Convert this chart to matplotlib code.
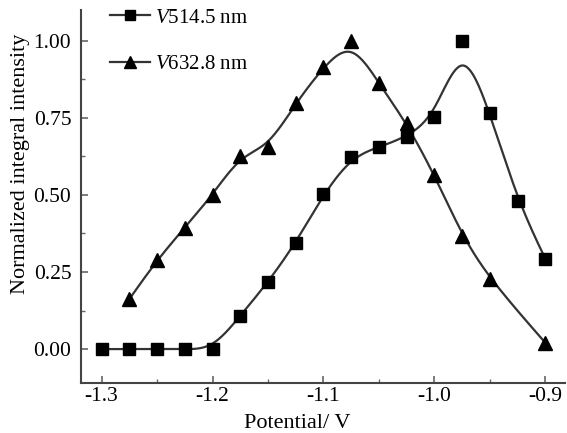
import numpy as np
import matplotlib
matplotlib.use('Agg')
import matplotlib.pyplot as plt
from matplotlib.ticker import MultipleLocator, FormatStrFormatter

plt.rcParams['font.family'] = 'Liberation Serif'
plt.rcParams['mathtext.fontset'] = 'custom'
plt.rcParams['mathtext.rm'] = 'Liberation Serif'
plt.rcParams['mathtext.it'] = 'Liberation Serif:italic'
plt.rcParams['axes.unicode_minus'] = False

# data
x_514 = [-1.3, -1.275, -1.25, -1.225, -1.2, -1.175, -1.15, -1.125, -1.1, -1.075,
         -1.05, -1.025, -1.0, -0.975, -0.95, -0.925, -0.9]
y_514 = [0.0, 0.0, 0.0, 0.0, 0.0, 0.108, 0.217, 0.344, 0.503, 0.622,
         0.656, 0.688, 0.754, 1.0, 0.766, 0.481, 0.292]
x_633 = [-1.275, -1.25, -1.225, -1.2, -1.175, -1.15, -1.125, -1.1, -1.075,
         -1.05, -1.025, -1.0, -0.975, -0.95, -0.9]
y_633 = [0.162, 0.289, 0.394, 0.5, 0.628, 0.655, 0.798, 0.916, 1.0,
         0.862, 0.732, 0.565, 0.367, 0.226, 0.02]


def bspline(xs, ys, n=30):
    # clamped uniform cubic B-spline with the data points as control points
    px = np.r_[[xs[0]] * 2, xs, [xs[-1]] * 2]
    py = np.r_[[ys[0]] * 2, ys, [ys[-1]] * 2]
    t = np.linspace(0, 1, n, endpoint=False)
    b0 = (1 - t) ** 3 / 6
    b1 = (3 * t ** 3 - 6 * t ** 2 + 4) / 6
    b2 = (-3 * t ** 3 + 3 * t ** 2 + 3 * t + 1) / 6
    b3 = t ** 3 / 6
    cx, cy = [], []
    for i in range(len(px) - 3):
        cx.append(b0 * px[i] + b1 * px[i + 1] + b2 * px[i + 2] + b3 * px[i + 3])
        cy.append(b0 * py[i] + b1 * py[i + 1] + b2 * py[i + 2] + b3 * py[i + 3])
    cx.append([xs[-1]])
    cy.append([ys[-1]])
    return np.concatenate(cx), np.concatenate(cy)


fig = plt.figure(figsize=(5.67, 4.33), dpi=100)
ax = fig.add_axes([81 / 567, 50 / 433, 484 / 567, 373 / 433])

line_col = '#333333'
for xs, ys, mk, ms, lab in [(x_514, y_514, 's', 9, '$V$514.5 nm'),
                            (x_633, y_633, '^', 10, '$V$632.8 nm')]:
    sx, sy = bspline(np.array(xs), np.array(ys))
    ax.plot(sx, sy, color=line_col, lw=1.6, zorder=2)
    ax.plot(xs, ys, ls='none', marker=mk, ms=ms, color='black', zorder=3)
    ax.plot([], [], color=line_col, lw=1.6, marker=mk, ms=ms * 0.8,
            mfc='black', mec='black', label=lab)

ax.set_xlim(-1.3185, -0.8824)
ax.set_ylim(-0.11, 1.10)
ax.xaxis.set_major_locator(MultipleLocator(0.1))
ax.xaxis.set_minor_locator(MultipleLocator(0.05))
ax.yaxis.set_major_locator(MultipleLocator(0.25))
ax.yaxis.set_minor_locator(MultipleLocator(0.125))
ax.xaxis.set_major_formatter(FormatStrFormatter('%.1f'))
ax.yaxis.set_major_formatter(FormatStrFormatter('%.2f'))
ax.tick_params(which='both', direction='in', labelsize=15.5, color='#666666')
ax.tick_params(which='major', length=5, width=1.2)
ax.tick_params(which='minor', length=3, width=1.0)
ax.tick_params(axis='x', pad=3)
ax.tick_params(axis='y', pad=7)
for s in ['top', 'right']:
    ax.spines[s].set_visible(False)
for s in ['left', 'bottom']:
    ax.spines[s].set_linewidth(1.5)
    ax.spines[s].set_color('#444444')

ax.set_xlabel('Potential/ V', fontsize=16)
ax.set_ylabel('Normalized integral intensity', fontsize=16)
ax.xaxis.set_label_coords((297 - 81) / 484, -(423 - 383) / 373, transform=ax.transAxes)
ax.yaxis.set_label_coords(-(81 - 20) / 484, (383 - 164) / 373, transform=ax.transAxes)
ax.xaxis.label.set_va('center')
ax.yaxis.label.set_va('center')

fig.legend(loc='upper left', bbox_to_anchor=(110 / 567, 1 - 8 / 433),
           frameon=False, fontsize=15, borderpad=0, borderaxespad=0,
           handlelength=1.9, handletextpad=0.25, labelspacing=1.3)

fig.savefig('out.png', dpi=100)
